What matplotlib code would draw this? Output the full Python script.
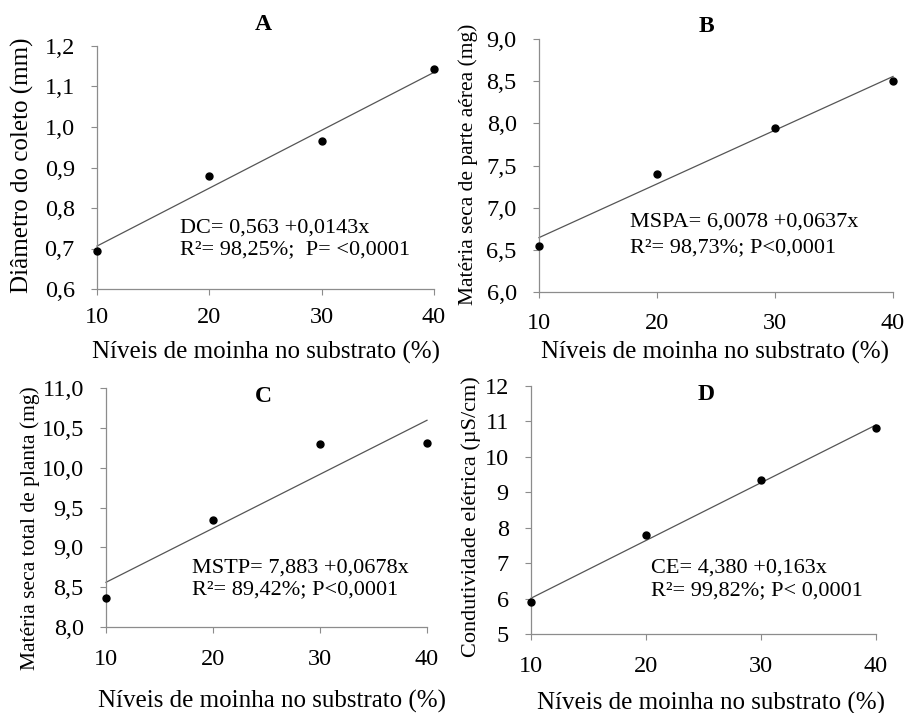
import numpy as np
import matplotlib
matplotlib.use('Agg')
import matplotlib.pyplot as plt

plt.rcParams['font.family'] = ['Liberation Serif', 'DejaVu Serif']

W, H = 906, 713

niveis = [10, 20, 30, 40]
x_ticks = [10, 20, 30, 40]

# A - diametro do coleto
dc = [0.695, 0.880, 0.966, 1.143]
dc_coef = (0.563, 0.0143)
dc_yticks = [0.6, 0.7, 0.8, 0.9, 1.0, 1.1, 1.2]
dc_ylabels = ['0,6', '0,7', '0,8', '0,9', '1,0', '1,1', '1,2']

# B - materia seca parte aerea
mspa = [6.55, 7.40, 7.95, 8.50]
mspa_coef = (6.0078, 0.0637)
mspa_yticks = [6.0, 6.5, 7.0, 7.5, 8.0, 8.5, 9.0]
mspa_ylabels = ['6,0', '6,5', '7,0', '7,5', '8,0', '8,5', '9,0']

# C - materia seca total
mstp = [8.37, 9.34, 10.30, 10.31]
mstp_coef = (7.883, 0.0678)
mstp_yticks = [8.0, 8.5, 9.0, 9.5, 10.0, 10.5, 11.0]
mstp_ylabels = ['8,0', '8,5', '9,0', '9,5', '10,0', '10,5', '11,0']

# D - condutividade eletrica
ce = [5.91, 7.80, 9.34, 10.82]
ce_coef = (4.380, 0.163)
ce_yticks = [5, 6, 7, 8, 9, 10, 11, 12]
ce_ylabels = ['5', '6', '7', '8', '9', '10', '11', '12']

xlabel = 'Níveis de moinha no substrato (%)'

fig = plt.figure(figsize=(W / 100, H / 100), dpi=100)


def px_axes(left, right, top, bottom):
    return fig.add_axes([left / W, 1 - bottom / H, (right - left) / W, (bottom - top) / H])


def panel(ax, y, coef, yticks, ylabels, xpad, ypad=12, tick_fs=17.5):
    x = np.array(niveis)
    ax.set_xlim(10, 40)
    ax.set_ylim(yticks[0], yticks[-1])
    ax.plot(x, coef[0] + coef[1] * x, color='#555555', lw=0.9, clip_on=False)
    ax.plot(niveis, y, 'o', color='black', ms=5, clip_on=False, zorder=5)
    ax.set_xticks(x_ticks)
    ax.set_xticklabels([str(v) for v in x_ticks])
    ax.set_yticks(yticks)
    ax.set_yticklabels(ylabels)
    for s in ['top', 'right']:
        ax.spines[s].set_visible(False)
    for s in ['left', 'bottom']:
        ax.spines[s].set_color('#8c8c8c')
        ax.spines[s].set_linewidth(0.9)
    ax.tick_params(axis='both', direction='out', length=4, width=0.8, color='#8c8c8c',
                   labelsize=tick_fs)
    ax.tick_params(axis='x', pad=xpad)
    ax.tick_params(axis='y', pad=ypad)
    ax.patch.set_visible(False)


def ftext(x, y, s, **kw):
    fig.text(x / W, 1 - y / H, s, **kw)


axA = px_axes(97, 434, 46, 289)
panel(axA, dc, dc_coef, dc_yticks, dc_ylabels, 9)
axB = px_axes(539, 893, 39, 292)
panel(axB, mspa, mspa_coef, mspa_yticks, mspa_ylabels, 11)
axC = px_axes(106, 427, 388, 627)
panel(axC, mstp, mstp_coef, mstp_yticks, mstp_ylabels, 12)
axD = px_axes(531, 876, 386, 634)
panel(axD, ce, ce_coef, ce_yticks, ce_ylabels, 12)

# titles
ftext(263, 25, 'A', fontsize=17, fontweight='bold', ha='center', va='center')
ftext(706, 27, 'B', fontsize=17, fontweight='bold', ha='center', va='center')
ftext(263, 396, 'C', fontsize=17, fontweight='bold', ha='center', va='center')
ftext(706, 394, 'D', fontsize=17, fontweight='bold', ha='center', va='center')

# y labels
ftext(22, 165, 'Diâmetro do coleto (mm)', fontsize=18, rotation=90, ha='center', va='center')
ftext(468, 164, 'Matéria seca de parte aérea (mg)', fontsize=15.5, rotation=90, ha='center', va='center')
ftext(30, 528, 'Matéria seca total de planta (mg)', fontsize=15.5, rotation=90, ha='center', va='center')
ftext(471, 517, 'Condutividade elétrica (µS/cm)', fontsize=16, rotation=90, ha='center', va='center')

# x labels
ftext(266, 352, xlabel, fontsize=18, ha='center', va='center')
ftext(715, 352, xlabel, fontsize=18, ha='center', va='center')
ftext(272, 701, xlabel, fontsize=18, ha='center', va='center')
ftext(711, 703, xlabel, fontsize=18, ha='center', va='center')

# equations
eq_fs = 16
ftext(180, 228, 'DC= 0,563 +0,0143x', fontsize=eq_fs, ha='left', va='center')
ftext(180, 250, 'R²= 98,25%;  P= <0,0001', fontsize=eq_fs, ha='left', va='center')
ftext(630, 222, 'MSPA= 6,0078 +0,0637x', fontsize=eq_fs, ha='left', va='center')
ftext(630, 248, 'R²= 98,73%; P<0,0001', fontsize=eq_fs, ha='left', va='center')
ftext(192, 568, 'MSTP= 7,883 +0,0678x', fontsize=eq_fs, ha='left', va='center')
ftext(192, 590, 'R²= 89,42%; P<0,0001', fontsize=eq_fs, ha='left', va='center')
ftext(651, 568, 'CE= 4,380 +0,163x', fontsize=eq_fs, ha='left', va='center')
ftext(651, 591, 'R²= 99,82%; P< 0,0001', fontsize=eq_fs, ha='left', va='center')

fig.savefig('out.png', dpi=100)
